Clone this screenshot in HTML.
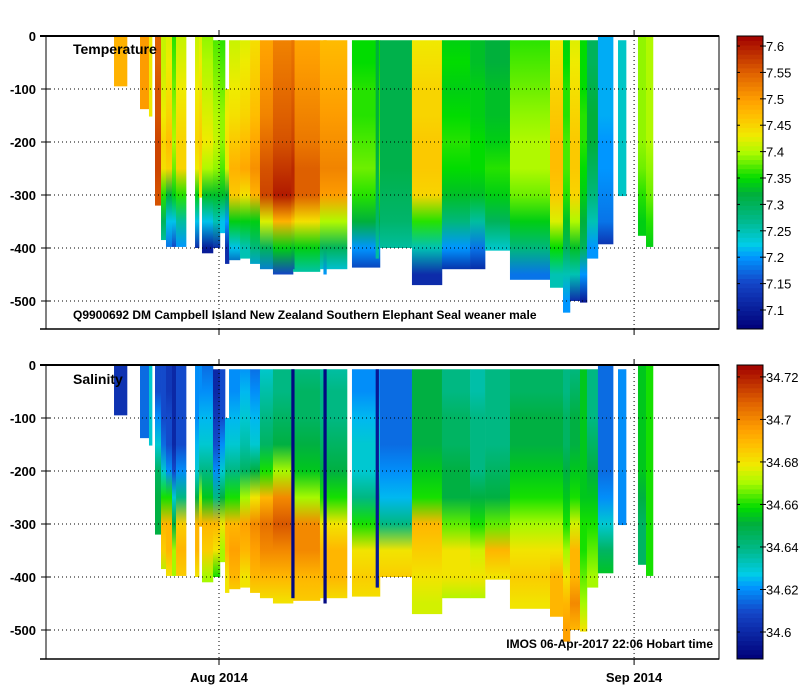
<!DOCTYPE html>
<html><head><meta charset="utf-8">
<style>
html,body{margin:0;padding:0;background:#fff;}
svg{display:block;font-family:"Liberation Sans",sans-serif;}
.lbl{font-size:13px;font-weight:bold;fill:#000;}
.cb{font-size:13px;fill:#000;}
</style></head>
<body>
<svg id="chart" width="799" height="700" viewBox="0 0 799 700">
<defs id="defs"></defs>
</svg>
<script>
// Profile columns: start day, end day (days relative to 1 Aug 2014), top depth (m), bottom depth (m)
const colStart = [-7.84,-5.90,-5.23,-4.78,-4.33,-3.96,-3.51,-3.21,-1.79,-1.49,-1.27,-0.45,0.07,0.45,0.75,1.57,2.32,3.06,4.03,5.53,7.54,9.93,12.02,14.41,16.65,18.75,19.87,21.73,24.72,25.69,26.21,26.96,27.48,28.30,29.80,31.29,31.89,5.40,7.80,11.70];
const colEnd   = [-6.87,-5.23,-5.00,-4.33,-3.96,-3.51,-3.21,-2.46,-1.49,-1.27,-0.45,0.07,0.45,0.75,1.57,2.32,3.06,4.03,5.53,7.54,9.56,12.02,14.41,16.65,18.75,19.87,21.73,24.72,25.69,26.21,26.96,27.48,28.30,29.43,30.40,31.89,32.41,5.62,8.02,11.92];
const colTop   = [0,0,0,0,0,0,0,0,0,0,0,8,8,100,8,8,8,8,8,8,8,8,8,8,8,8,8,8,8,8,8,8,8,0,8,0,0,8,8,8];
const colBottom= [95,138,152,320,385,398,398,398,400,305,410,400,372,430,423,420,430,440,450,445,440,437,400,470,440,440,405,460,475,522,500,503,420,393,302,377,398,440,450,420];
// Temperature values at depth levels 0,50,100,...,500 m
const temps = [
[7.48,7.48],[7.50,7.50,7.50],[7.43,7.43,7.43,7.43],
[7.55,7.55,7.56,7.56,7.57,7.57,7.56],
[7.41,7.41,7.42,7.43,7.45,7.44,7.36,7.30,7.25],
[7.42,7.43,7.44,7.45,7.47,7.45,7.32,7.22,7.18],
[7.36,7.37,7.38,7.39,7.40,7.38,7.34,7.22,7.15],
[7.41,7.42,7.43,7.44,7.45,7.45,7.36,7.26,7.20],
[7.41,7.42,7.43,7.44,7.45,7.43,7.34,7.22,7.12],
[7.42,7.43,7.44,7.45,7.46,7.45,7.43],
[7.39,7.40,7.41,7.42,7.43,7.40,7.33,7.22,7.10],
[7.37,7.38,7.39,7.40,7.41,7.39,7.33,7.25,7.12],
[7.36,7.37,7.38,7.39,7.39,7.37,7.33,7.22],
[7.42,7.42,7.42,7.43,7.44,7.42,7.32,7.20,7.12],
[7.41,7.42,7.43,7.44,7.46,7.48,7.46,7.34,7.22,7.10],
[7.42,7.43,7.44,7.45,7.47,7.49,7.44,7.34,7.25],
[7.44,7.45,7.46,7.47,7.49,7.51,7.48,7.34,7.28,7.20],
[7.49,7.50,7.51,7.52,7.54,7.56,7.57,7.42,7.30,7.18],
[7.52,7.53,7.54,7.55,7.56,7.58,7.60,7.48,7.34,7.15],
[7.49,7.50,7.51,7.52,7.53,7.55,7.55,7.44,7.34,7.25],
[7.47,7.48,7.49,7.50,7.51,7.52,7.50,7.40,7.30,7.22],
[7.35,7.35,7.36,7.36,7.37,7.38,7.36,7.32,7.20,7.12],
[7.31,7.31,7.31,7.31,7.31,7.31,7.30,7.29,7.26],
[7.43,7.44,7.45,7.45,7.46,7.46,7.45,7.36,7.25,7.12],
[7.34,7.35,7.34,7.35,7.36,7.35,7.33,7.28,7.20,7.10],
[7.33,7.33,7.34,7.34,7.35,7.35,7.33,7.26,7.18,7.10],
[7.32,7.32,7.33,7.33,7.34,7.36,7.34,7.30,7.24],
[7.36,7.37,7.38,7.39,7.40,7.40,7.38,7.34,7.28,7.18],
[7.43,7.44,7.45,7.46,7.47,7.47,7.46,7.42,7.35,7.25],
[7.34,7.35,7.36,7.36,7.37,7.37,7.36,7.33,7.30,7.25,7.20],
[7.42,7.43,7.44,7.45,7.46,7.46,7.45,7.40,7.33,7.25,7.12],
[7.35,7.35,7.35,7.36,7.36,7.35,7.34,7.32,7.30,7.20,7.10],
[7.30,7.30,7.31,7.32,7.32,7.30,7.28,7.25,7.20],
[7.21,7.21,7.21,7.21,7.20,7.20,7.19,7.18,7.12],
[7.24,7.24,7.24,7.24,7.24,7.24,7.24],
[7.39,7.39,7.39,7.39,7.39,7.38,7.36,7.34],
[7.40,7.40,7.40,7.40,7.40,7.39,7.38,7.36,7.34],
[7.53,7.54,7.55,7.56,7.57,7.59,7.59,7.46,7.33,7.15],
[7.47,7.48,7.49,7.50,7.51,7.52,7.50,7.40,7.30,7.20],
[7.32,7.32,7.32,7.32,7.32,7.31,7.30,7.29,7.26]
];
// Salinity values at depth levels 0,50,100,...,500 m
const sals = [
[34.603,34.603],[34.615,34.615,34.615],[34.63,34.63,34.63,34.63],
[34.61,34.61,34.62,34.63,34.645,34.65,34.65],
[34.61,34.61,34.61,34.615,34.63,34.66,34.69,34.685,34.67],
[34.605,34.605,34.61,34.61,34.62,34.66,34.69,34.69,34.68],
[34.60,34.60,34.60,34.60,34.61,34.63,34.65,34.67,34.67],
[34.61,34.61,34.61,34.61,34.62,34.64,34.685,34.69,34.685],
[34.62,34.62,34.62,34.625,34.63,34.65,34.69,34.69,34.68],
[34.62,34.62,34.625,34.63,34.64,34.67,34.69],
[34.615,34.62,34.625,34.63,34.64,34.655,34.69,34.685,34.67],
[34.60,34.60,34.605,34.61,34.62,34.64,34.69,34.68,34.66],
[34.61,34.61,34.61,34.62,34.63,34.65,34.68,34.67],
[34.625,34.625,34.625,34.63,34.64,34.66,34.69,34.69,34.68],
[34.62,34.62,34.625,34.63,34.64,34.66,34.69,34.695,34.69,34.68],
[34.62,34.625,34.63,34.635,34.645,34.67,34.695,34.69,34.68],
[34.615,34.62,34.625,34.63,34.65,34.68,34.70,34.695,34.69,34.68],
[34.63,34.635,34.64,34.645,34.66,34.69,34.705,34.70,34.69,34.68],
[34.64,34.64,34.645,34.65,34.67,34.70,34.71,34.70,34.69,34.68],
[34.64,34.645,34.645,34.65,34.655,34.67,34.70,34.70,34.69,34.685],
[34.635,34.64,34.64,34.645,34.65,34.66,34.68,34.69,34.69,34.68],
[34.62,34.62,34.625,34.63,34.63,34.64,34.66,34.68,34.685,34.68],
[34.615,34.615,34.615,34.615,34.62,34.625,34.64,34.68,34.685],
[34.65,34.65,34.65,34.65,34.655,34.66,34.69,34.685,34.68,34.675],
[34.64,34.64,34.645,34.645,34.65,34.65,34.665,34.68,34.68,34.67],
[34.635,34.635,34.64,34.64,34.64,34.65,34.66,34.675,34.68,34.67],
[34.64,34.64,34.64,34.64,34.645,34.65,34.665,34.69,34.68],
[34.645,34.645,34.65,34.65,34.655,34.66,34.67,34.68,34.685,34.68],
[34.645,34.645,34.65,34.65,34.655,34.66,34.67,34.68,34.69,34.69],
[34.64,34.64,34.645,34.645,34.65,34.655,34.66,34.67,34.68,34.69,34.695],
[34.64,34.645,34.65,34.65,34.655,34.66,34.675,34.69,34.69,34.70,34.69],
[34.655,34.655,34.655,34.655,34.655,34.655,34.66,34.66,34.665,34.67,34.68],
[34.64,34.64,34.64,34.645,34.65,34.655,34.66,34.665,34.67],
[34.615,34.615,34.615,34.615,34.615,34.62,34.63,34.645,34.655],
[34.62,34.62,34.62,34.62,34.62,34.62,34.62],
[34.655,34.655,34.655,34.655,34.655,34.65,34.645,34.645],
[34.66,34.66,34.66,34.66,34.66,34.66,34.66,34.66,34.66],
[34.59,34.59,34.59,34.59,34.59,34.59,34.59,34.59,34.59,34.59],
[34.59,34.59,34.59,34.59,34.59,34.59,34.59,34.59,34.59,34.59],
[34.595,34.595,34.595,34.595,34.595,34.595,34.595,34.595,34.595]
];
const depthTicks = [0,-100,-200,-300,-400,-500];
const tempTicks = [7.1,7.15,7.2,7.25,7.3,7.35,7.4,7.45,7.5,7.55,7.6];
const salTicks = [34.6,34.62,34.64,34.66,34.68,34.7,34.72];
const dateTicks = [0,31];
const dateLabels = ["Aug 2014","Sep 2014"];

const NS="http://www.w3.org/2000/svg";
const svg=document.getElementById('chart');
const defs=document.getElementById('defs');
function mk(tag,attrs,parent){const e=document.createElementNS(NS,tag);for(const k in attrs)e.setAttribute(k,attrs[k]);(parent||svg).appendChild(e);return e;}

const PX0=46, PX1=719;
const xScale=d=>219+d*13.39;
const panels=[{y0:36,y1:329,vals:temps,min:7.064,max:7.619,ticks:tempTicks,name:'temperature'},
              {y0:365,y1:659,vals:sals,min:34.5873,max:34.7256,ticks:salTicks,name:'salinity'}];
const stops=[[0,0,0,120],[0.16,20,70,200],[0.245,0,150,255],[0.29,0,205,230],[0.37,0,185,140],[0.46,0,175,60],[0.515,0,220,0],[0.6,170,250,0],[0.66,240,235,0],[0.73,255,190,0],[0.78,255,160,0],[0.87,225,100,0],[1,160,0,0]];
function cmap(t){t=Math.max(0,Math.min(1,t));
 for(let i=1;i<stops.length;i++){if(t<=stops[i][0]){const a=stops[i-1],b=stops[i],f=(t-a[0])/(b[0]-a[0]);
  return 'rgb('+[1,2,3].map(j=>Math.round(a[j]+(b[j]-a[j])*f)).join(',')+')';}}
 return 'rgb(160,0,0)';}

panels.forEach((p,pi)=>{
  const yScale=m=>p.y0+m*0.53;
  const g=mk('g',{});
  
  
  for(let c=0;c<colStart.length;c++){
    const x0=xScale(colStart[c]), x1=xScale(colEnd[c]);
    const vals=p.vals[c];
    const gid='g'+pi+'_'+c;
    const lg=mk('linearGradient',{id:gid,gradientUnits:'userSpaceOnUse',x1:0,x2:0,y1:yScale(0),y2:yScale(500)},defs);
    for(let i=0;i<vals.length;i++){
      mk('stop',{offset:(i*50/500).toFixed(3),'stop-color':cmap((vals[i]-p.min)/(p.max-p.min))},lg);
    }
    const r=mk('rect',{x:x0.toFixed(2),y:yScale(colTop[c]).toFixed(2),width:(x1-x0+0.3).toFixed(2),height:(yScale(colBottom[c])-yScale(colTop[c])).toFixed(2),fill:'url(#'+gid+')'},g);
    
    
  }
  depthTicks.forEach(t=>{
    const y=yScale(-t);
    if(t!==0) mk('line',{x1:PX0,x2:PX1,y1:y,y2:y,stroke:'#000','stroke-dasharray':'1,3','stroke-width':1},g);
    mk('line',{x1:PX0,x2:PX0+5,y1:y,y2:y,stroke:'#000'},g);
    mk('line',{x1:PX1-5,x2:PX1,y1:y,y2:y,stroke:'#000'},g);
    mk('line',{x1:PX0-5,x2:PX0,y1:y,y2:y,stroke:'#000'},g);
    const tl=mk('text',{x:36,y:y+5,'text-anchor':'end',class:'lbl'},g);tl.textContent=String(t);
    
    
  });
  dateTicks.forEach((d,i)=>{
    const x=xScale(d);
    mk('line',{x1:x,x2:x,y1:p.y0,y2:p.y1,stroke:'#000','stroke-dasharray':'1,3'},g);
    mk('line',{x1:x,x2:x,y1:p.y0-6,y2:p.y0,stroke:'#000'},g);
    mk('line',{x1:x,x2:x,y1:p.y1,y2:p.y1+6,stroke:'#000'},g);
    if(pi===1){const tl=mk('text',{x:x,y:682,'text-anchor':'middle',class:'lbl'},g);tl.textContent=dateLabels[i];
      
      }
  });
  mk('rect',{x:PX0,y:p.y0,width:PX1-PX0,height:p.y1-p.y0,fill:'none',stroke:'#000','stroke-width':1},g);
  mk('line',{x1:40,x2:PX1,y1:p.y0,y2:p.y0,stroke:'#000','stroke-width':2},g);
  mk('line',{x1:40,x2:PX1,y1:p.y1,y2:p.y1,stroke:'#000','stroke-width':1.5},g);
  const cg=mk('g',{});
  
  
  const N=64,h=(p.y1-p.y0)/N;
  for(let k=0;k<N;k++){mk('rect',{x:737,y:(p.y1-(k+1)*h).toFixed(2),width:26,height:(h+0.4).toFixed(2),fill:cmap((k+0.5)/N)},cg);}
  mk('rect',{x:737,y:p.y0,width:26,height:p.y1-p.y0,fill:'none',stroke:'#000'},cg);
  p.ticks.forEach(t=>{
    const y=p.y1-(t-p.min)/(p.max-p.min)*(p.y1-p.y0);
    mk('line',{x1:760,x2:766,y1:y,y2:y,stroke:'#000'},cg);
    mk('line',{x1:737,x2:740,y1:y,y2:y,stroke:'#000'},cg);
    const tl=mk('text',{x:766,y:y+5,class:'cb'},cg);tl.textContent=String(t);
    
    
  });
});
function txt(x,y,s,name,size,anchor){const t=mk('text',{x:x,y:y,class:'lbl','text-anchor':anchor||'start'});t.style.fontSize=size+'px';t.textContent=s;
 
 }
txt(73,54,'Temperature','temperature-title',14);
txt(73,319,'Q9900692 DM Campbell Island New Zealand Southern Elephant Seal weaner male','deployment-label',12);
txt(73,384,'Salinity','salinity-title',14);
txt(713,648,'IMOS 06-Apr-2017 22:06 Hobart time','timestamp-label',12,'end');
</script>
</body></html>
